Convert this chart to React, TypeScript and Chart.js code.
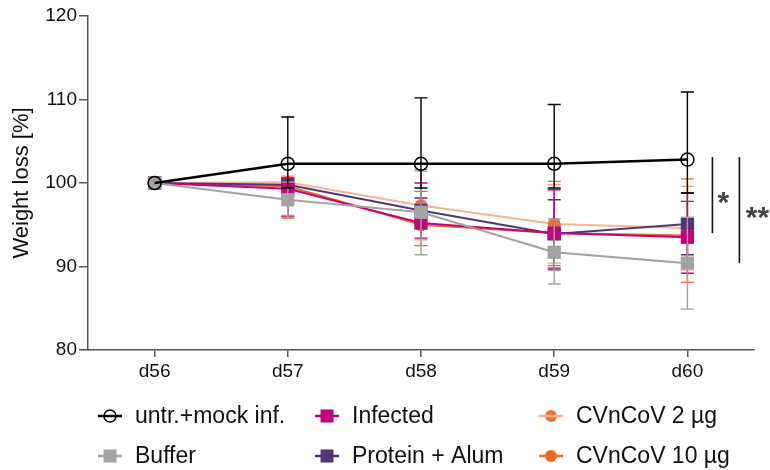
import React, { useEffect, useRef } from 'react';
import { Chart, registerables } from 'chart.js';

Chart.register(...registerables);

const FONT = "'Liberation Sans', Arial, Helvetica, sans-serif";

// Categories
const days = ['d56', 'd57', 'd58', 'd59', 'd60'];

// Series means and error-bar ends
const untrMean = [100, 102.3, 102.3, 102.3, 102.8];
const untrHi = [100, 107.9, 110.2, 109.4, 110.9];
const untrLo = [100, 99.4, 99.4, 99.4, 98.8];

const bufferMean = [100, 98.0, 96.5, 91.7, 90.4];
const bufferHi = [100, 100.1, 101.6, 95.7, 95.9];
const bufferLo = [100, 95.9, 91.4, 87.9, 84.9];

const infectedMean = [100, 99.3, 95.2, 94.0, 93.5];
const infectedHi = [100, 100.6, 100.0, 99.2, 97.8];
const infectedLo = [100, 96.0, 93.4, 89.6, 89.2];

const proteinMean = [100, 99.8, 96.7, 93.9, 95.1];
const proteinHi = [100, 100.3, 98.2, 98.0, 98.8];
const proteinLo = [100, 99.3, 95.2, 89.8, 91.4];

const cv2Mean = [100, 100.1, 97.3, 95.1, 94.6];
const cv2Hi = [100, 100.8, 101.4, 99.8, 99.6];
const cv2Lo = [100, 96.1, 93.2, 90.4, 89.6];

const cv10Mean = [100, 99.6, 95.0, 94.0, 93.7];
const cv10Hi = [100, 100.6, 99.0, 100.2, 100.5];
const cv10Lo = [100, 95.8, 92.5, 90.1, 88.1];

// Y axis range / ticks
const yMin = 80;
const yMax = 120;
const yStep = 10;

// Significance brackets (value ranges) and labels
const sigRanges = [
  [103.1, 94.0],
  [103.1, 90.4],
];
const sigLabels = ['*', '**'];

type Series = {
  label: string;
  mean: number[];
  hi: number[];
  lo: number[];
  line: string;
  marker: string;
  style: 'circle' | 'rect';
  hollow?: boolean;
  width: number;
  lineOnTop?: boolean;
};

// Drawing order: first = on top
const series: Series[] = [
  { label: 'untr.+mock inf.', mean: untrMean, hi: untrHi, lo: untrLo, line: '#000000', marker: '#000000', style: 'circle', hollow: true, width: 2.5 },
  { label: 'Buffer', mean: bufferMean, hi: bufferHi, lo: bufferLo, line: '#A3A3A3', marker: '#A3A3A3', style: 'rect', width: 2 },
  { label: 'Infected', mean: infectedMean, hi: infectedHi, lo: infectedLo, line: '#C2037E', marker: '#C2037E', style: 'rect', width: 2 },
  { label: 'Protein + Alum', mean: proteinMean, hi: proteinHi, lo: proteinLo, line: '#503677', marker: '#503677', style: 'rect', width: 2 },
  { label: 'CVnCoV 2 µg', mean: cv2Mean, hi: cv2Hi, lo: cv2Lo, line: '#F6B493', marker: '#EE7232', style: 'circle', width: 2, lineOnTop: true },
  { label: 'CVnCoV 10 µg', mean: cv10Mean, hi: cv10Hi, lo: cv10Lo, line: '#EE6A24', marker: '#EE6A24', style: 'circle', width: 2 },
];

// Legend grid: [series index, column, row]
const legendLayout = [
  [0, 0, 0],
  [1, 0, 1],
  [2, 1, 0],
  [3, 1, 1],
  [4, 2, 0],
  [5, 2, 1],
];
const legendColX = [110, 327, 551];
const legendRowY = [416, 456];

function drawMarker(ctx: CanvasRenderingContext2D, s: Series, x: number, y: number, size: number) {
  ctx.save();
  if (s.style === 'rect') {
    ctx.fillStyle = s.marker;
    ctx.fillRect(x - size / 2, y - size / 2, size, size);
  } else {
    ctx.beginPath();
    ctx.arc(x, y, size / 2, 0, Math.PI * 2);
    if (s.hollow) {
      ctx.fillStyle = '#ffffff';
      ctx.fill();
      ctx.strokeStyle = s.marker;
      ctx.lineWidth = 1.5;
      ctx.stroke();
    } else {
      ctx.fillStyle = s.marker;
      ctx.fill();
    }
  }
  ctx.restore();
}

const errorBarPlugin = {
  id: 'errorBars',
  beforeDatasetDraw(chart: any, args: any) {
    const s = series[args.index];
    if (!s) return;
    const ctx = chart.ctx as CanvasRenderingContext2D;
    const yScale = chart.scales.y;
    ctx.save();
    ctx.strokeStyle = s.line === '#F6B493' ? '#F3A27A' : s.line;
    ctx.lineWidth = 1.4;
    args.meta.data.forEach((pt: any, i: number) => {
      const hi = s.hi[i];
      const lo = s.lo[i];
      if (hi === lo) return;
      const x = pt.x;
      const yh = yScale.getPixelForValue(hi);
      const yl = yScale.getPixelForValue(lo);
      ctx.beginPath();
      ctx.moveTo(x, yh);
      ctx.lineTo(x, yl);
      ctx.moveTo(x - 6.5, yh);
      ctx.lineTo(x + 6.5, yh);
      ctx.moveTo(x - 6.5, yl);
      ctx.lineTo(x + 6.5, yl);
      ctx.stroke();
    });
    ctx.restore();
  },
};

const overlayPlugin = {
  id: 'overlay',
  afterDraw(chart: any) {
    const ctx = chart.ctx as CanvasRenderingContext2D;
    const xScale = chart.scales.x;
    const yScale = chart.scales.y;
    const lastX = xScale.getPixelForValue(days.length - 1);

    // significance brackets
    ctx.save();
    const offsets = [25, 52];
    const starOff = [11, 18];
    sigRanges.forEach((r, i) => {
      const x = lastX + offsets[i];
      const y1 = yScale.getPixelForValue(r[0]);
      const y2 = yScale.getPixelForValue(r[1]);
      ctx.strokeStyle = '#111111';
      ctx.lineWidth = 1.6;
      ctx.beginPath();
      ctx.moveTo(x, y1);
      ctx.lineTo(x, y2);
      ctx.stroke();
      ctx.fillStyle = '#444444';
      ctx.font = `bold 30px ${FONT}`;
      ctx.textAlign = 'center';
      ctx.textBaseline = 'alphabetic';
      const mid = (y1 + y2) / 2;
      ctx.fillText(sigLabels[i], x + starOff[i], mid + 17);
    });
    ctx.restore();

    // legend
    ctx.save();
    legendLayout.forEach(([si, col, row]) => {
      const s = series[si];
      const cx = legendColX[col];
      const cy = legendRowY[row];
      const drawLine = () => {
        ctx.strokeStyle = s.line;
        ctx.lineWidth = 2.5;
        ctx.beginPath();
        ctx.moveTo(cx - 12, cy);
        ctx.lineTo(cx + 12, cy);
        ctx.stroke();
      };
      if (!s.lineOnTop && !s.hollow) drawLine();
      drawMarker(ctx, s, cx, cy, s.style === 'rect' ? 13 : 12);
      if (s.lineOnTop || s.hollow) drawLine();
      ctx.fillStyle = '#111111';
      ctx.font = `23px ${FONT}`;
      ctx.textAlign = 'left';
      ctx.textBaseline = 'middle';
      ctx.fillText(s.label, cx + 25, cy + 1);
    });
    ctx.restore();
  },
};

export default function App() {
  const canvasRef = useRef<HTMLCanvasElement | null>(null);

  useEffect(() => {
    const canvas = canvasRef.current;
    if (!canvas) return;
    const datasets = series.map((s) => ({
      label: s.label,
      data: s.mean,
      borderColor: s.line,
      backgroundColor: s.marker,
      borderWidth: s.width,
      pointStyle: s.style,
      pointRadius: s.style === 'rect' ? 9.4 : 6.5,
      pointHoverRadius: s.style === 'rect' ? 9.4 : 6.5,
      pointBackgroundColor: s.hollow ? 'rgba(255,255,255,0)' : s.marker,
      pointBorderColor: s.marker,
      pointBorderWidth: s.hollow ? 1.5 : 0,
      tension: 0,
      fill: false,
      clip: false as any,
    }));

    const chart = new Chart(canvas, {
      type: 'line',
      data: { labels: days, datasets },
      plugins: [errorBarPlugin, overlayPlugin],
      options: {
        responsive: false,
        animation: false,
        devicePixelRatio: 1,
        events: [],
        layout: { padding: { left: 0, right: 16, top: 16, bottom: 80 } },
        plugins: {
          legend: { display: false },
          tooltip: { enabled: false },
        },
        scales: {
          x: {
            type: 'category',
            offset: true,
            grid: {
              display: true,
              drawOnChartArea: false,
              drawTicks: true,
              tickLength: 7,
              color: '#555555',
              lineWidth: 1.5,
              offset: false,
            },
            border: { display: true, color: '#555555', width: 1.5 },
            ticks: {
              font: { family: FONT, size: 19 },
              color: '#111111',
              padding: 3,
              maxRotation: 0,
              autoSkip: false,
            },
            afterFit: (s: any) => {
              s.height = 40;
            },
          },
          y: {
            min: yMin,
            max: yMax,
            ticks: {
              stepSize: yStep,
              font: { family: FONT, size: 19 },
              color: '#111111',
              padding: 2,
            },
            grid: {
              display: true,
              drawOnChartArea: false,
              drawTicks: true,
              tickLength: 9,
              color: '#555555',
              lineWidth: 1.5,
            },
            border: { display: true, color: '#555555', width: 1.5 },
            title: {
              display: true,
              text: 'Weight loss [%]',
              font: { family: FONT, size: 22 },
              color: '#111111',
              padding: { top: 9, bottom: 0 },
            },
            afterFit: (s: any) => {
              s.width = 88;
            },
          },
        },
      },
    });
    return () => chart.destroy();
  }, []);

  return (
    <div style={{ position: 'absolute', left: 0, top: 0, width: 770, height: 470, background: '#ffffff' }}>
      <canvas ref={canvasRef} width={770} height={470} />
    </div>
  );
}
